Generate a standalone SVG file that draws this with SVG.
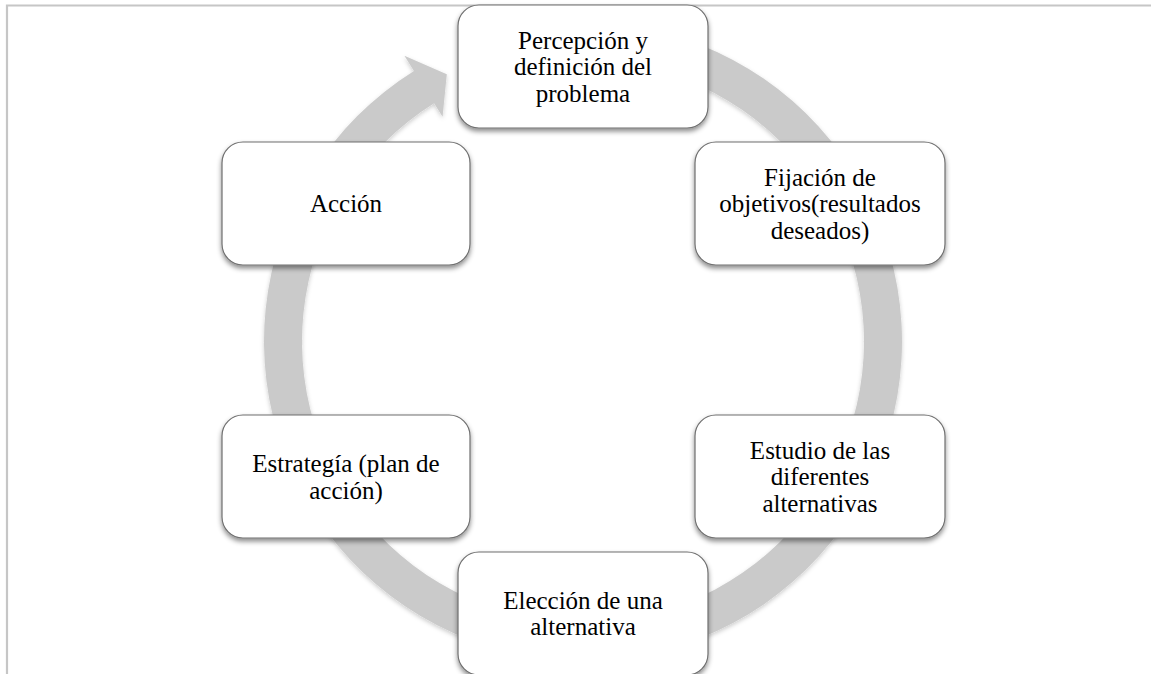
<svg xmlns="http://www.w3.org/2000/svg" width="1151" height="674" viewBox="0 0 1151 674">
<style>
.box{fill:#ffffff;stroke:#6f6f6f;stroke-width:1.2;filter:url(#sh)}
.t{font-family:"Liberation Serif","Times New Roman",serif;font-size:25px;fill:#000;text-anchor:middle}
.frame{stroke:#c6c6c6;stroke-width:2.2;fill:none}
.ring{fill:#cacaca;filter:url(#sh2)}
</style>
<defs>
<filter id="sh" x="-10%" y="-10%" width="120%" height="130%">
<feDropShadow dx="0" dy="3" stdDeviation="2.5" flood-color="#000" flood-opacity="0.45"/>
</filter>
<filter id="sh2" x="-10%" y="-10%" width="120%" height="120%">
<feDropShadow dx="0" dy="2" stdDeviation="2" flood-color="#000" flood-opacity="0.2"/>
</filter>
</defs>
<rect width="1151" height="674" fill="#ffffff"/>
<path class="frame" d="M7 674 V5.5 H1151"/>
<g id="connectors">
<path class="ring" d="M665.56 33.37 A319 319 0 1 1 413.96 70.97 L404.42 55.71 L446.8 74.2 L442.57 116.77 L434.09 103.2 A281 281 0 1 0 655.73 70.08 Z"/>
</g>
<g id="n1">
<rect class="box" x="458" y="5" width="250" height="123" rx="21"/>
<text class="t" x="583" y="48.5">Percepción y</text>
<text class="t" x="583" y="75">definición del</text>
<text class="t" x="583" y="101.5">problema</text>
</g>
<g id="n2">
<rect class="box" x="695" y="142" width="250" height="123" rx="21"/>
<text class="t" x="820" y="185.5">Fijación de</text>
<text class="t" x="820" y="212">objetivos(resultados</text>
<text class="t" x="820" y="238.5">deseados)</text>
</g>
<g id="n3">
<rect class="box" x="695" y="415" width="250" height="123" rx="21"/>
<text class="t" x="820" y="458.5">Estudio de las</text>
<text class="t" x="820" y="485">diferentes</text>
<text class="t" x="820" y="511.5">alternativas</text>
</g>
<g id="n4">
<rect class="box" x="458" y="552" width="250" height="123" rx="21"/>
<text class="t" x="583" y="608.5">Elección de una</text>
<text class="t" x="583" y="635">alternativa</text>
</g>
<g id="n5">
<rect class="box" x="222" y="415" width="248" height="123" rx="21"/>
<text class="t" x="346" y="472">Estrategía (plan de</text>
<text class="t" x="346" y="498.5">acción)</text>
</g>
<g id="n6">
<rect class="box" x="222" y="142" width="248" height="123" rx="21"/>
<text class="t" x="346" y="212">Acción</text>
</g>
</svg>
